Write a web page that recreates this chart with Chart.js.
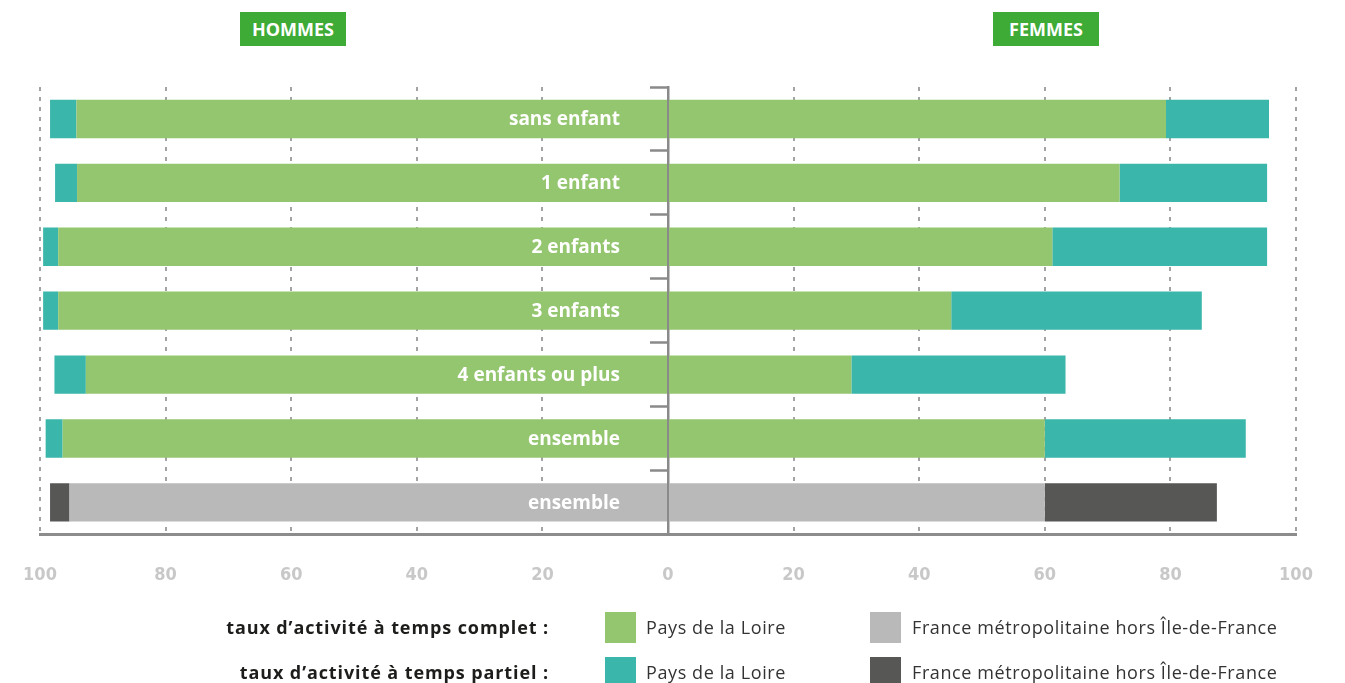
<!DOCTYPE html>
<html lang="fr">
<head>
<meta charset="utf-8">
<title>Taux d'activité hommes / femmes</title>
<script src="https://cdn.jsdelivr.net/npm/chart.js@4.4.1/dist/chart.umd.min.js"></script>
<style>
 html,body{margin:0;padding:0;background:#fff;}
 #wrap{position:relative;width:1345px;height:683px;overflow:hidden;font-family:'Open Sans',sans-serif;}
 #chartBox{position:absolute;left:0;top:0;width:1345px;height:683px;}
 .head{position:absolute;top:12px;width:106px;height:34px;line-height:34px;background:#3dab35;color:#fff;font-weight:700;font-size:18px;text-align:center;}
 .lgRow{position:absolute;left:0;width:1345px;height:31px;line-height:31px;font-size:18px;}
 .lgTitle{position:absolute;right:796px;top:0;font-weight:700;color:#1d1d1b;white-space:nowrap;letter-spacing:0.9px;}
 .lgSw{position:absolute;top:0;width:31px;height:31px;}
 .lgTxt{position:absolute;top:0;color:#333;white-space:nowrap;letter-spacing:0.6px;}
</style>
</head>
<body>
<div id="wrap">
 <div id="chartBox"><canvas id="chartID"></canvas></div>
 <div class="head" style="left:240px;">HOMMES</div>
 <div class="head" style="left:993px;">FEMMES</div>
 <div id="legendID"></div>
</div>

<script>
// categories (la derniere ligne = France metropolitaine hors IdF)
var categories=['sans enfant','1 enfant','2 enfants','3 enfants','4 enfants ou plus','ensemble','ensemble'];
var zones=['pdl','pdl','pdl','pdl','pdl','pdl','fr'];
// taux d'activite en %
var hommesComplet=[94.2,94.1,97.1,97.1,92.7,96.4,95.3];
var hommesPartiel=[4.2,3.5,2.4,2.4,5.0,2.7,3.1];
var femmesComplet=[79.3,71.9,61.2,45.1,29.2,60.0,60.0];
var femmesPartiel=[16.4,23.5,34.2,39.9,34.1,32.0,27.4];
var xTicks=[-100,-80,-60,-40,-20,0,20,40,60,80,100];

var colComplet={pdl:'#94c56f',fr:'#b9b9b9'};
var colPartiel={pdl:'#3ab6ab',fr:'#575756'};
var zoneNames={pdl:'Pays de la Loire',fr:'France métropolitaine hors Île-de-France'};
var legendTitles=['taux d’activité à temps complet :','taux d’activité à temps partiel :'];

var compColors=zones.map(function(z){return colComplet[z];});
var partColors=zones.map(function(z){return colPartiel[z];});

// libelles blancs dans les barres
var barLabels={id:'barLabels',afterDatasetsDraw:function(chart){
 var ctx=chart.ctx, x=chart.scales.x, y=chart.scales.y;
 ctx.save();
 ctx.font="bold 19px 'Open Sans'";
 ctx.fillStyle='#ffffff';
 ctx.textAlign='right';
 ctx.textBaseline='middle';
 for (var i=0;i<categories.length;i++) {ctx.fillText(categories[i],x.getPixelForValue(0)-48,y.getPixelForValue(i)+1);}
 ctx.restore();
}};

var ctx=document.getElementById('chartID').getContext('2d');
var chart=new Chart(ctx,{type:'bar',
 data:{labels:categories,datasets:[
  {label:'hommes complet',data:hommesComplet.map(function(v){return -v;}),backgroundColor:compColors},
  {label:'hommes partiel',data:hommesPartiel.map(function(v){return -v;}),backgroundColor:partColors},
  {label:'femmes complet',data:femmesComplet,backgroundColor:compColors},
  {label:'femmes partiel',data:femmesPartiel,backgroundColor:partColors}
 ]},
 options:{indexAxis:'y',responsive:true,maintainAspectRatio:false,animation:false,
  layout:{padding:{left:40,right:49,top:87,bottom:67}},
  datasets:{bar:{categoryPercentage:1,barPercentage:0.6,borderWidth:0}},
  plugins:{legend:{display:false},tooltip:{enabled:false},title:{display:false}},
  scales:{
   x:{type:'linear',stacked:true,min:-100,max:100,
    afterBuildTicks:function(s){s.ticks=xTicks.map(function(v){return {value:v};});},
    afterFit:function(s){s.paddingLeft=0;s.paddingRight=0;},
    grid:{display:true,drawOnChartArea:true,drawTicks:false,color:'#a3a3a3',lineWidth:2},
    border:{display:true,color:'#8c8c8c',width:3,dash:[4,6]},
    ticks:{padding:30,color:'#c8c8c8',font:{family:"'DejaVu Sans Condensed','Liberation Sans Narrow',sans-serif",weight:'bold',size:18},
     callback:function(v){return Math.abs(v);}}
   },
   y:{type:'category',stacked:true,position:{x:0},z:1,
    afterFit:function(s){s.paddingTop=0;s.paddingBottom=0;},
    grid:{display:true,offset:true,drawOnChartArea:false,drawTicks:true,tickLength:17,tickColor:'#8a8a8a',tickWidth:2.5,tickBorderDash:[]},
    border:{display:true,color:'#8a8a8a',width:2.5},
    ticks:{display:false}
   }
  }
 },
 plugins:[barLabels]
});

// legende en html
var lg=document.getElementById('legendID');
var rowTops=[612,657];
['complet','partiel'].forEach(function(kind,r){
 var row=document.createElement('div');
 row.className='lgRow';
 row.style.top=rowTops[r]+'px';
 var html='<span class="lgTitle">'+legendTitles[r]+'</span>';
 var cols=(kind=='complet')?colComplet:colPartiel;
 html+='<span class="lgSw" style="left:605px;background:'+cols.pdl+'"></span><span class="lgTxt" style="left:646px;">'+zoneNames.pdl+'</span>';
 html+='<span class="lgSw" style="left:870px;background:'+cols.fr+'"></span><span class="lgTxt" style="left:912px;">'+zoneNames.fr+'</span>';
 row.innerHTML=html;
 lg.appendChild(row);
});
</script>
</body>
</html>
